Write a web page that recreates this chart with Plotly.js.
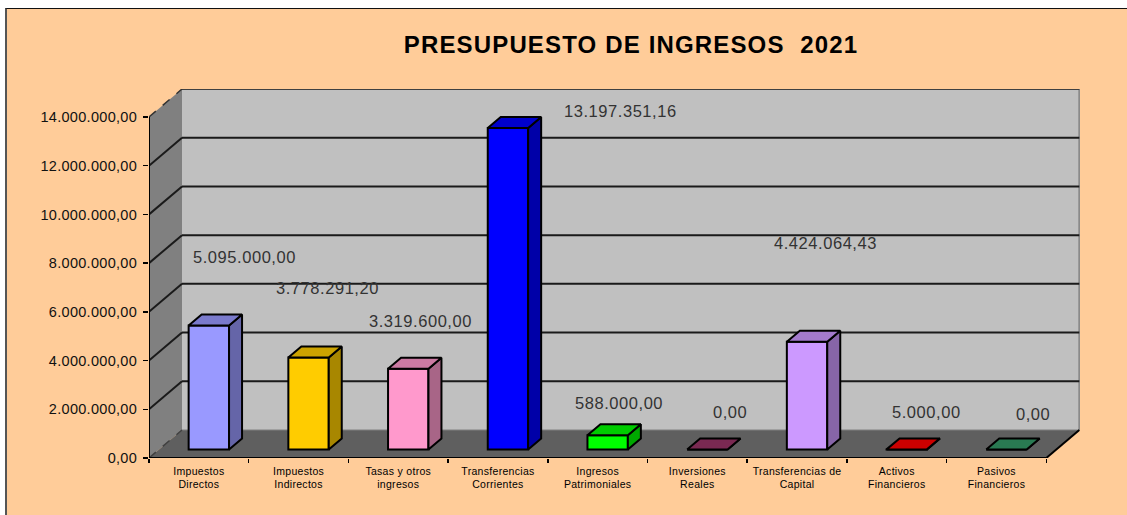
<!DOCTYPE html>
<html><head><meta charset="utf-8">
<script src="https://cdn.plot.ly/plotly-3.0.1.min.js"></script>
<style>
html,body{margin:0;padding:0;background:#fff;overflow:hidden;width:1127px;height:515px}
#frame{position:absolute;left:5px;top:8px;width:1122px;height:507px;box-sizing:border-box;border-left:2px solid #555;border-top:1px solid #111;background:#FFCC99}
#chart{width:1120px;height:506px}
.gtitle{letter-spacing:1.15px}
.ytick text{letter-spacing:.3px}
.xtick text{letter-spacing:.3px}
.annotation-text{letter-spacing:.55px}
</style></head><body>
<div id="frame"><div id="chart"></div></div>
<script>
var categories = ["Impuestos<br>Directos","Impuestos<br>Indirectos","Tasas y otros<br>ingresos","Transferencias<br>Corrientes","Ingresos<br>Patrimoniales","Inversiones<br>Reales","Transferencias de<br>Capital","Activos<br>Financieros","Pasivos<br>Financieros"];
var values = [5095000.00,3778291.20,3319600.00,13197351.16,588000.00,0.00,4424064.43,5000.00,0.00];
var barColors = ["#9999FF","#FFCC00","#FF99CC","#0000FF","#00FF00","#993366","#CC99FF","#FF0000","#339966"];
var yTicks = [0,2000000,4000000,6000000,8000000,10000000,12000000,14000000];
var titleText = "PRESUPUESTO DE INGRESOS&nbsp;&nbsp;2021";
// hand-placed label offsets, px from the top of each bar's front face
var labelDx = [35.5,19,12,112.5,11,23,18,19.5,27];
var labelDy = [68,69,48,17,32,38,99,37,36];

var PX_X = 99.7, PX_Y = 341/14000000;      // px per category, px per unit value
var plotW = 931, plotH = 369;
var dX = 33/PX_X, dY = 28/PX_Y;            // full chart depth
var bDX = 13/PX_X, bDY = 11/PX_Y;          // bar depth
var gX = 10/PX_X, gY = 8.5/PX_Y;           // gap from front of the floor to the bar
var barW = 40.4/PX_X;
var nCat = categories.length;

function shade(hex,f){var n=parseInt(hex.slice(1),16);
  return 'rgb('+Math.round((n>>16&255)*f)+','+Math.round((n>>8&255)*f)+','+Math.round((n&255)*f)+')';}
function fmt(v){var p=v.toFixed(2).split('.');return p[0].replace(/\B(?=(\d{3})+$)/g,'.')+','+p[1];}

var poly=function(x0,y0,pts,fill,line){var s='';
  return {type:'path',xref:'x',yref:'y',layer:'below',fillcolor:fill,line:line||{width:0},
    path:pts.map(function(p,i){return (i?'L':'M')+p[0]+','+p[1];}).join(' ')+' Z'};};
var seg=function(x0,y0,x1,y1,c,w,dash){return {type:'line',xref:'x',yref:'y',layer:'below',x0:x0,y0:y0,x1:x1,y1:y1,line:{color:c,width:w,dash:dash||'solid'}};};

var top14 = yTicks[yTicks.length-1];
var shapes = [
  poly(0,0,[[dX,dY],[nCat+dX,dY],[nCat+dX,top14+dY],[dX,top14+dY]],'#C0C0C0'),
  poly(0,0,[[0,0],[dX,dY],[dX,top14+dY],[0,top14]],'#808080'),
  poly(0,0,[[0,0],[nCat,0],[nCat+dX,dY],[dX,dY]],'#5F5F5F'),
  seg(nCat+dX,dY,nCat+dX,top14+dY,'#8A8A8A',2),
  seg(dX,dY,nCat+dX,dY,'#808080',1)
];
yTicks.forEach(function(t){
  if(t>0&&t<top14){shapes.push(seg(0,t,dX,t+dY,'#1A1A1A',2));shapes.push(seg(dX,t+dY,nCat+dX,t+dY,'#1A1A1A',2));}
});
shapes.push(seg(dX,top14+dY,nCat+dX,top14+dY,'#404040',2));
shapes.push(seg(0,top14,dX,top14+dY,'#333',1.5,'dash'));
shapes.push(seg(0,0,dX,dY,'#404040',1.5,'dash'));
shapes.push(seg(0,0,0,top14,'#000',2));
shapes.push(seg(0,0,nCat,0,'#000',2));
shapes.push(seg(nCat,0,nCat+dX,dY,'#000',2));

var traces = [], lineK = {color:'#000',width:2};
var centers = categories.map(function(c,i){return i+0.5+gX;});
values.forEach(function(v,i){
  var x0=centers[i]-barW/2, x1=centers[i]+barW/2, y0=gY, y1=gY+v;
  traces.push({type:'scatter',mode:'lines',x:[x1,x1+bDX,x1+bDX,x1,x1],y:[y0,y0+bDY,y1+bDY,y1,y0],fill:'toself',fillcolor:shade(barColors[i],0.66),line:lineK,hoverinfo:'skip',showlegend:false});
  traces.push({type:'scatter',mode:'lines',x:[x0,x1,x1+bDX,x0+bDX,x0],y:[y1,y1,y1+bDY,y1+bDY,y1],fill:'toself',fillcolor:shade(barColors[i],0.8),line:lineK,hoverinfo:'skip',showlegend:false});
});
traces.unshift({type:'bar',x:centers,y:values,base:gY,width:barW,marker:{color:barColors,line:{color:'#000',width:2}},hoverinfo:'skip',showlegend:false});

var annotations = values.map(function(v,i){return {
  xref:'x',yref:'y',x:centers[i],y:v+gY,text:fmt(v),showarrow:false,
  xshift:labelDx[i],yshift:labelDy[i],font:{family:'Liberation Sans, Arial, sans-serif',size:16.5,color:'#333333'}};});

var layout = {
  width:1120,height:506,autosize:false,
  paper_bgcolor:'#FFCC99',plot_bgcolor:'rgba(0,0,0,0)',showlegend:false,
  margin:{l:142,t:80,r:1120-142-plotW,b:506-80-plotH,pad:0},
  title:{text:titleText,x:624/1120,xanchor:'center',y:1-36/506,yanchor:'middle',font:{family:'Liberation Sans, Arial, sans-serif',size:24,color:'#000',weight:700}},
  xaxis:{range:[0,plotW/PX_X],showgrid:false,zeroline:false,showline:false,
    tickmode:'array',tickvals:categories.map(function(c,i){return i+0.5;}),ticktext:categories,ticks:'',ticklabelstandoff:5,
    minor:{tickmode:'array',tickvals:categories.map(function(c,i){return i;}).concat([nCat]),ticks:'outside',ticklen:4,tickwidth:1.5,tickcolor:'#000',showgrid:false},
    tickangle:0,tickfont:{family:'Liberation Sans, Arial, sans-serif',size:10.5,color:'#000'}},
  yaxis:{range:[0,plotH/PX_Y],showgrid:false,zeroline:false,showline:false,
    tickmode:'array',tickvals:yTicks,ticktext:yTicks.map(fmt),ticks:'outside',ticklen:5,tickwidth:1.5,tickcolor:'#000',ticklabelstandoff:3,
    tickfont:{family:'Liberation Sans, Arial, sans-serif',size:14.5,color:'#111'}},
  shapes:shapes,annotations:annotations,bargap:0
};
Plotly.newPlot('chart',traces,layout,{displayModeBar:false,staticPlot:true});
</script></body></html>
